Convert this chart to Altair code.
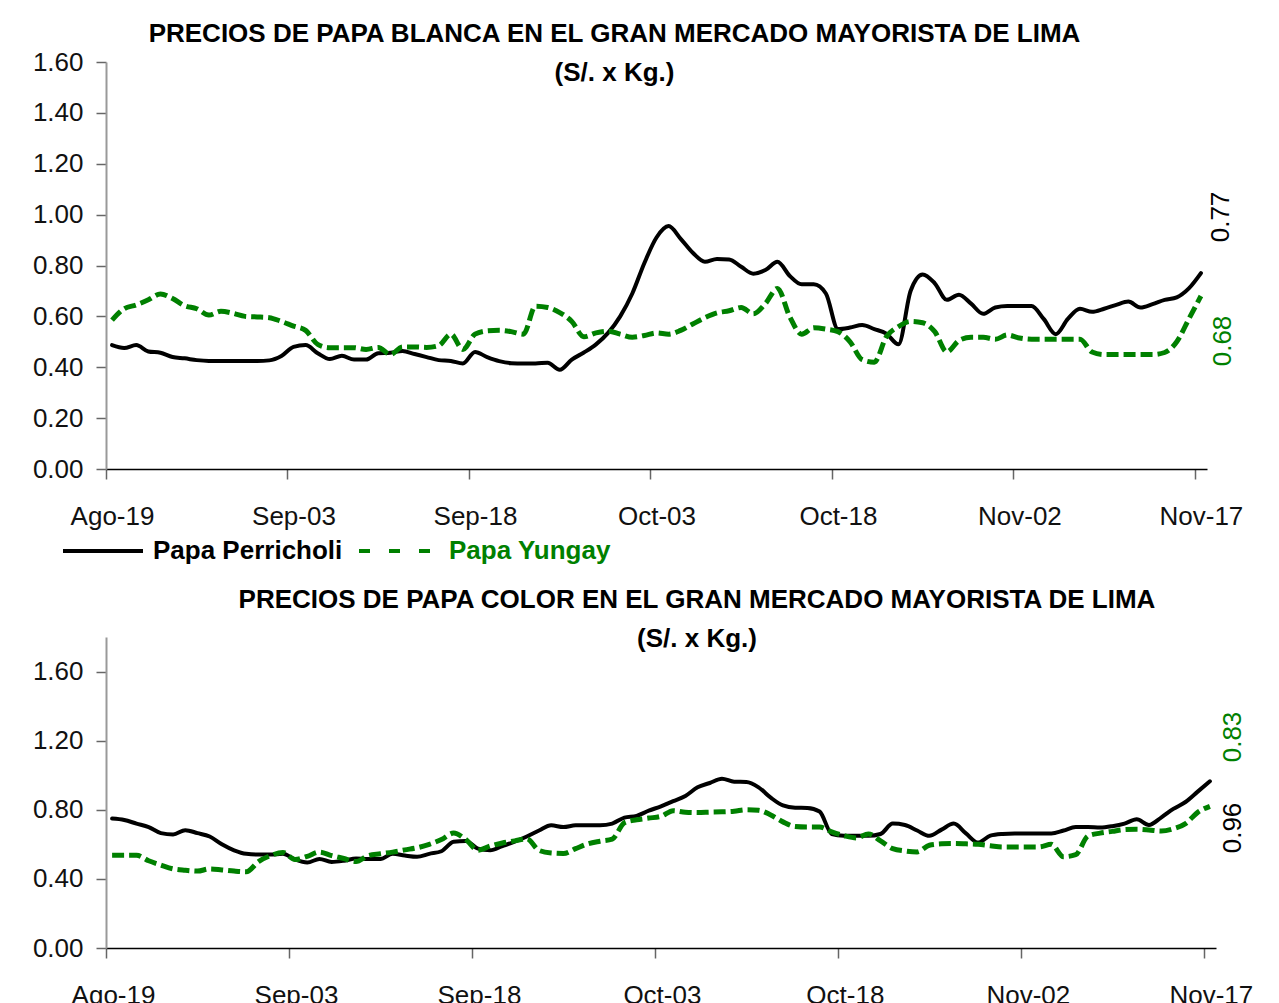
import altair as alt
import pandas as pd

# ---------------- data ----------------
dias = pd.date_range("2019-08-19 12:00", periods=91, freq="D").strftime("%Y-%m-%dT%H:%M:%S").tolist()

blanca_perricholi = [
    0.487, 0.476, 0.487, 0.462, 0.457, 0.440, 0.435, 0.428, 0.425, 0.425,
    0.425, 0.425, 0.425, 0.427, 0.444, 0.480, 0.487, 0.455, 0.432, 0.445,
    0.430, 0.430, 0.455, 0.457, 0.464, 0.452, 0.440, 0.428, 0.425, 0.415,
    0.460, 0.440, 0.424, 0.416, 0.415, 0.415, 0.418, 0.390, 0.430, 0.458,
    0.490, 0.535, 0.600, 0.690, 0.810, 0.910, 0.955, 0.905, 0.850, 0.815,
    0.826, 0.824, 0.795, 0.768, 0.782, 0.815, 0.760, 0.726, 0.726, 0.690,
    0.550, 0.556, 0.566, 0.550, 0.532, 0.490, 0.700, 0.765, 0.730, 0.665,
    0.685, 0.650, 0.610, 0.635, 0.641, 0.641, 0.641, 0.590, 0.530, 0.590,
    0.630, 0.618, 0.630, 0.645, 0.658, 0.635, 0.648, 0.665, 0.675, 0.710,
    0.770,
]
blanca_yungay = [
    0.585, 0.630, 0.645, 0.665, 0.688, 0.670, 0.642, 0.630, 0.605, 0.620,
    0.612, 0.600, 0.598, 0.595, 0.580, 0.562, 0.545, 0.490, 0.477, 0.477,
    0.477, 0.470, 0.478, 0.450, 0.480, 0.480, 0.478, 0.485, 0.530, 0.470,
    0.530, 0.543, 0.545, 0.540, 0.530, 0.640, 0.635, 0.615, 0.580, 0.520,
    0.535, 0.542, 0.530, 0.518, 0.525, 0.535, 0.530, 0.545, 0.570, 0.595,
    0.614, 0.622, 0.635, 0.610, 0.650, 0.710, 0.600, 0.530, 0.555, 0.550,
    0.540, 0.500, 0.430, 0.420, 0.520, 0.560, 0.580, 0.575, 0.540, 0.460,
    0.505, 0.518, 0.518, 0.510, 0.527, 0.515, 0.510, 0.510, 0.510, 0.510,
    0.510, 0.460, 0.450, 0.450, 0.450, 0.450, 0.450, 0.458, 0.500, 0.590,
    0.680,
]
color_negra = [
    0.749, 0.741, 0.720, 0.700, 0.665, 0.657, 0.682, 0.665, 0.645, 0.600,
    0.565, 0.545, 0.541, 0.541, 0.545, 0.512, 0.495, 0.515, 0.498, 0.505,
    0.518, 0.515, 0.515, 0.545, 0.535, 0.528, 0.545, 0.560, 0.615, 0.620,
    0.575, 0.566, 0.590, 0.615, 0.645, 0.680, 0.710, 0.700, 0.710, 0.710,
    0.710, 0.720, 0.755, 0.765, 0.795, 0.820, 0.850, 0.880, 0.930, 0.955,
    0.980, 0.962, 0.961, 0.930, 0.870, 0.825, 0.812, 0.811, 0.790, 0.660,
    0.650, 0.649, 0.649, 0.660, 0.720, 0.712, 0.680, 0.649, 0.685, 0.720,
    0.663, 0.610, 0.650, 0.660, 0.663, 0.663, 0.663, 0.663, 0.680, 0.700,
    0.700, 0.697, 0.705, 0.720, 0.745, 0.712, 0.755, 0.805, 0.845, 0.905,
    0.965,
]
color_verde = [
    0.537, 0.537, 0.537, 0.505, 0.480, 0.458, 0.450, 0.445, 0.458, 0.452,
    0.445, 0.441, 0.500, 0.535, 0.553, 0.512, 0.530, 0.555, 0.535, 0.518,
    0.500, 0.535, 0.545, 0.555, 0.568, 0.580, 0.600, 0.628, 0.665, 0.628,
    0.566, 0.590, 0.608, 0.620, 0.632, 0.565, 0.550, 0.547, 0.575, 0.603,
    0.618, 0.630, 0.725, 0.742, 0.752, 0.762, 0.795, 0.786, 0.784, 0.786,
    0.788, 0.792, 0.800, 0.797, 0.770, 0.730, 0.703, 0.700, 0.700, 0.672,
    0.650, 0.637, 0.660, 0.620, 0.575, 0.562, 0.556, 0.595, 0.603, 0.605,
    0.603, 0.600, 0.592, 0.585, 0.585, 0.585, 0.585, 0.600, 0.528, 0.540,
    0.648, 0.665, 0.675, 0.685, 0.687, 0.683, 0.677, 0.690, 0.720, 0.785,
    0.820,
]

series_blanca = ["Papa Perricholi", "Papa Yungay"]
series_color = ["Serie negra", "Serie verde"]

tick_fechas = ["2019-08-19", "2019-09-03", "2019-09-18", "2019-10-03",
               "2019-10-18", "2019-11-02", "2019-11-17"]
tick_textos = ["Ago-19", "Sep-03", "Sep-18", "Oct-03", "Oct-18", "Nov-02", "Nov-17"]

etiquetas_blanca = ["0.77", "0.68"]
etiquetas_color = ["0.83", "0.96"]

titulo_blanca = "PRECIOS DE PAPA BLANCA EN EL GRAN MERCADO MAYORISTA DE LIMA"
titulo_color = "PRECIOS DE PAPA COLOR EN EL GRAN MERCADO MAYORISTA DE LIMA"
subtitulo = "(S/. x Kg.)"

# ---------------- helpers ----------------
VERDE = "#008000"
FONT = "Liberation Sans"


def dt(s):
    y, m, d = (int(v) for v in s.split("-"))
    return alt.DateTime(year=y, month=m, date=d)


label_expr = ""
for f, t in zip(tick_fechas, tick_textos):
    label_expr += f"timeFormat(datum.value, '%Y-%m-%d') == '{f}' ? '{t}' : "
label_expr += "''"

x_domain = [dt("2019-08-19"), dt("2019-11-18")]


def x_enc(offset):
    return alt.X(
        "fecha:T",
        scale=alt.Scale(domain=x_domain),
        axis=alt.Axis(
            title=None,
            values=[dt(f) for f in tick_fechas],
            labelExpr=label_expr,
            labelOffset=offset,
            labelPadding=24,
            labelBaseline="top",
            labelFlush=False,
            labelOverlap=False,
            domainColor="#000000",
            domainWidth=1.5,
        ),
    )


def y_enc(top, step):
    vals = []
    v = 0.0
    while v <= 1.6 + 1e-9:
        vals.append(round(v, 2))
        v += step
    return alt.Y(
        "precio:Q",
        scale=alt.Scale(domain=[0, top], nice=False, zero=True),
        axis=alt.Axis(
            title=None,
            values=vals,
            format=".2f",
            labelPadding=13,
            domainColor="#999999",
            domainWidth=2,
        ),
    )


def titulo(texto, offset, dx):
    return alt.TitleParams(
        text=texto,
        subtitle=subtitulo,
        font=FONT,
        fontSize=26,
        fontWeight="bold",
        color="#000000",
        subtitleFont=FONT,
        subtitleFontSize=26,
        subtitleFontWeight="bold",
        subtitleColor="#000000",
        subtitlePadding=13,
        anchor="middle",
        frame="group",
        offset=offset,
        dx=dx,
    )


# ---------------- top panel ----------------
df_bp = pd.DataFrame({"fecha": dias, "precio": blanca_perricholi, "serie": series_blanca[0]})
df_by = pd.DataFrame({"fecha": dias, "precio": blanca_yungay, "serie": series_blanca[1]})

color_enc = alt.Color(
    "serie:N",
    scale=alt.Scale(domain=series_blanca, range=["#000000", VERDE]),
    legend=alt.Legend(
        title=None,
        orient="none",
        legendX=-45,
        legendY=447,
        direction="horizontal",
        symbolType="stroke",
        symbolSize=6400,
        symbolStrokeWidth=4,
        symbolDash=alt.ExprRef("datum.label == 'Papa Yungay' ? [11, 19] : [1, 0]"),
        labelFont=FONT,
        labelFontSize=26,
        labelFontWeight="bold",
        labelColor=alt.ExprRef("datum.label == 'Papa Yungay' ? '" + VERDE + "' : '#000000'"),
        labelOffset=8,
        columnPadding=8,
        padding=0,
        labelLimit=400,
    ),
)

top_black = alt.Chart(df_bp).mark_line(
    strokeWidth=4, interpolate="monotone", strokeCap="round"
).encode(x=x_enc(6), y=y_enc(1.6, 0.2), color=color_enc)

top_green = alt.Chart(df_by).mark_line(
    strokeWidth=5, interpolate="monotone", strokeDash=[12, 5], strokeCap="butt"
).encode(x=x_enc(6), y=y_enc(1.6, 0.2), color=color_enc)

lab_top_1 = alt.Chart(pd.DataFrame({"t": [etiquetas_blanca[0]]})).mark_text(
    angle=270, font=FONT, fontSize=26, color="#000000", align="center", baseline="middle"
).encode(x=alt.value(1115), y=alt.value(155), text="t:N")
lab_top_2 = alt.Chart(pd.DataFrame({"t": [etiquetas_blanca[1]]})).mark_text(
    angle=270, font=FONT, fontSize=26, color=VERDE, align="center", baseline="middle"
).encode(x=alt.value(1117), y=alt.value(279), text="t:N")

top = alt.layer(top_black, top_green, lab_top_1, lab_top_2).properties(
    width=1101,
    height=407,
    title=titulo(titulo_blanca, -37, -42),
)

# ---------------- bottom panel ----------------
df_cn = pd.DataFrame({"fecha": dias, "precio": color_negra, "serie": series_color[0]})
df_cv = pd.DataFrame({"fecha": dias, "precio": color_verde, "serie": series_color[1]})

bot_black = alt.Chart(df_cn).mark_line(
    strokeWidth=4, interpolate="monotone", color="#000000", strokeCap="round"
).encode(x=x_enc(7), y=y_enc(1.8, 0.4))

bot_green = alt.Chart(df_cv).mark_line(
    strokeWidth=5, interpolate="monotone", strokeDash=[12, 5], color=VERDE, strokeCap="butt"
).encode(x=x_enc(7), y=y_enc(1.8, 0.4))

lab_bot_1 = alt.Chart(pd.DataFrame({"t": [etiquetas_color[0]]})).mark_text(
    angle=270, font=FONT, fontSize=26, color=VERDE, align="center", baseline="middle"
).encode(x=alt.value(1127), y=alt.value(100), text="t:N")
lab_bot_2 = alt.Chart(pd.DataFrame({"t": [etiquetas_color[1]]})).mark_text(
    angle=270, font=FONT, fontSize=26, color="#000000", align="center", baseline="middle"
).encode(x=alt.value(1127), y=alt.value(191), text="t:N")

bottom = alt.layer(bot_black, bot_green, lab_bot_1, lab_bot_2).properties(
    width=1110,
    height=311,
    title=titulo(titulo_color, -15, 36),
)

chart = (
    alt.vconcat(top, bottom, spacing=23)
    .resolve_scale(color="independent")
    .properties(padding={"left": 24, "top": 13, "right": 5, "bottom": 5}, background="white")
    .configure_view(stroke=None)
    .configure_axis(
        grid=False,
        labelFont=FONT,
        labelFontSize=26,
        labelColor="#111111",
        tickColor="#666666",
        tickSize=10,
        tickWidth=1.5,
    )
)

chart.save("out.html", embed_options={"renderer": "svg", "actions": False})
